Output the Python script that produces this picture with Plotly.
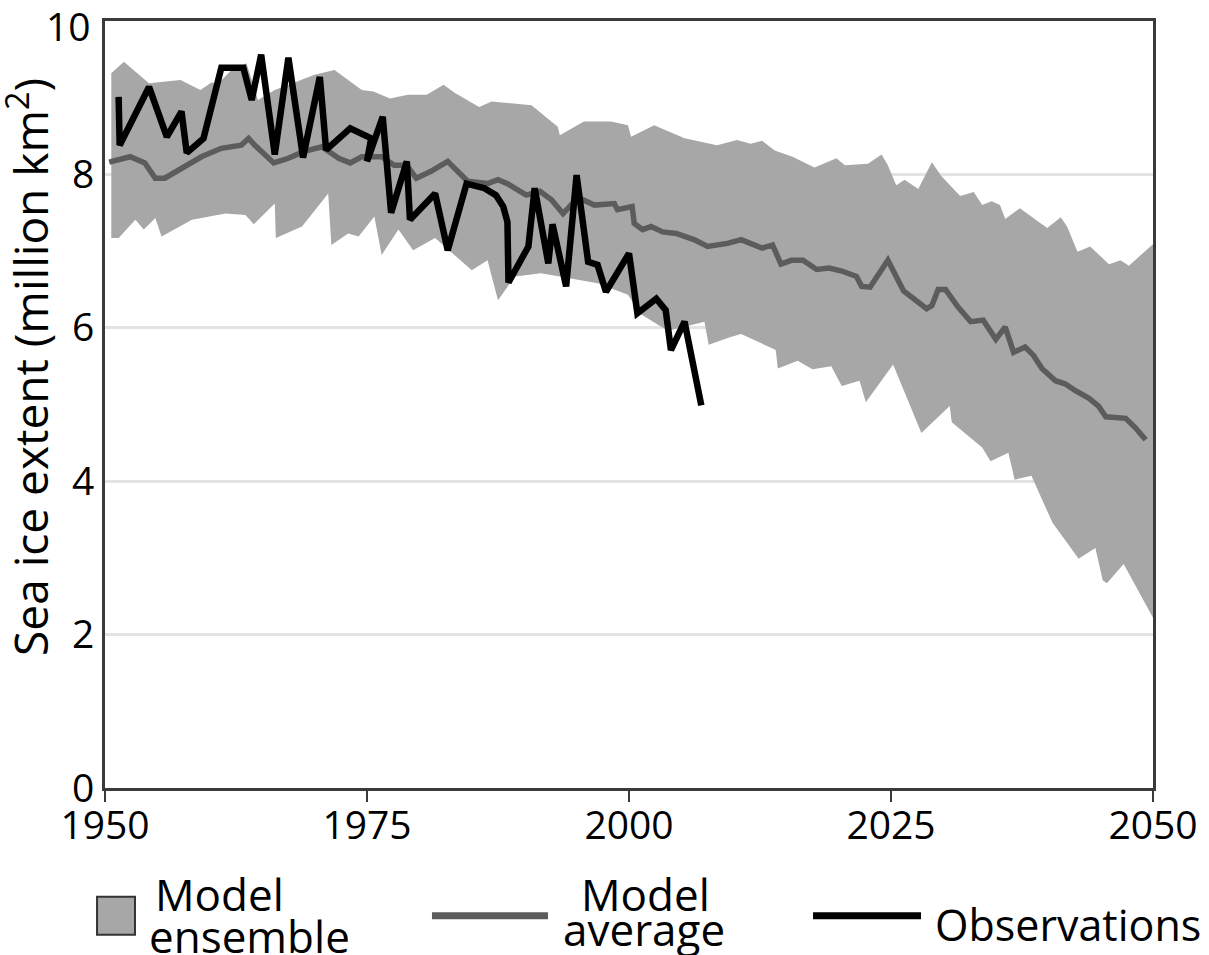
import plotly.graph_objects as go

# Observations (September sea ice extent, million km^2)
obs_years = [1951.3, 1951.4, 1954.2, 1955.9, 1957.3, 1957.8, 1959.4, 1961.1, 1963.2, 1964.0,
             1964.9, 1966.2, 1967.5, 1968.9, 1970.5, 1971.1, 1973.4, 1975.4, 1975.0, 1976.5,
             1977.3, 1978.8, 1979.1, 1981.5, 1982.7, 1984.5, 1986.2, 1987.3, 1988.0, 1988.4,
             1988.5, 1990.4, 1991.0, 1992.3, 1992.7, 1994.0, 1995.0, 1996.1, 1997.0, 1997.8,
             2000.0, 2000.8, 2002.6, 2003.5, 2004.0, 2005.3, 2006.9]
obs_vals = [9.01, 8.38, 9.14, 8.49, 8.82, 8.28, 8.47, 9.39, 9.39, 8.97,
            9.56, 8.26, 9.52, 8.22, 9.27, 8.32, 8.60, 8.47, 8.17, 8.75,
            7.50, 8.17, 7.41, 7.75, 7.01, 7.88, 7.82, 7.73, 7.58, 7.38,
            6.59, 7.06, 7.82, 6.84, 7.35, 6.54, 7.99, 6.86, 6.82, 6.47,
            6.97, 6.19, 6.38, 6.23, 5.71, 6.08, 4.99]

# Model average
avg_years = [1950.4, 1952.4, 1953.8, 1954.8, 1955.7, 1957.3, 1959.2, 1961.1, 1963.0, 1963.7,
             1964.3, 1966.1, 1967.5, 1969.0, 1970.7, 1972.3, 1973.4, 1974.5, 1976.4, 1977.6,
             1978.8, 1979.7, 1981.1, 1982.7, 1983.7, 1984.6, 1986.5, 1987.5, 1988.4, 1990.2,
             1991.5, 1992.6, 1993.7, 1994.6, 1995.6, 1996.7, 1998.6, 1998.9, 2000.3, 2000.5,
             2001.3, 2002.1, 2003.2, 2004.5, 2006.2, 2007.5, 2009.4, 2010.7, 2012.7, 2013.7,
             2014.5, 2015.5, 2016.6, 2017.9, 2019.1, 2020.3, 2021.7, 2022.2, 2023.0, 2024.7,
             2026.2, 2027.3, 2028.4, 2028.9, 2029.5, 2030.2, 2031.4, 2032.6, 2033.8, 2035.0,
             2035.9, 2036.7, 2037.8, 2038.6, 2039.4, 2040.7, 2041.6, 2042.6, 2043.9, 2044.8,
             2045.5, 2047.4, 2048.3, 2049.3]
avg_vals = [8.16, 8.23, 8.15, 7.95, 7.95, 8.08, 8.23, 8.34, 8.38, 8.47,
            8.38, 8.15, 8.21, 8.30, 8.36, 8.21, 8.15, 8.23, 8.23, 8.12,
            8.12, 7.95, 8.04, 8.17, 8.02, 7.91, 7.88, 7.93, 7.88, 7.73,
            7.78, 7.67, 7.49, 7.62, 7.67, 7.60, 7.62, 7.54, 7.58, 7.36,
            7.28, 7.32, 7.25, 7.23, 7.15, 7.06, 7.10, 7.15, 7.04, 7.08,
            6.83, 6.88, 6.88, 6.76, 6.78, 6.74, 6.67, 6.54, 6.53, 6.88,
            6.48, 6.36, 6.25, 6.29, 6.50, 6.50, 6.27, 6.08, 6.10, 5.85,
            6.01, 5.68, 5.75, 5.64, 5.47, 5.31, 5.27, 5.18, 5.08, 4.98,
            4.84, 4.82, 4.70, 4.54]

# Model ensemble envelope
up_years = [1950.6, 1951.8, 1954.2, 1957.2, 1959.1, 1960.2, 1960.7, 1962.0, 1963.5,
            1964.6, 1966.2, 1970.0, 1971.9, 1974.5, 1975.6, 1977.2, 1978.9, 1980.7, 1982.3,
            1983.4, 1985.7, 1986.9, 1990.7, 1993.2, 1993.4, 1995.7, 1998.3, 1999.9, 2000.2,
            2002.4, 2005.3, 2008.4, 2010.3, 2011.6, 2012.7, 2013.9, 2015.6, 2017.7, 2019.8,
            2020.6, 2022.8, 2024.1, 2024.7, 2025.5, 2026.3, 2027.6, 2028.9, 2029.8, 2031.6,
            2032.9, 2033.7, 2034.6, 2035.4, 2035.9, 2037.3, 2039.9, 2041.2, 2041.8, 2042.8,
            2044.0, 2045.8, 2046.9, 2047.7, 2050.0]
up_vals = [9.32, 9.47, 9.19, 9.23, 9.10, 9.20, 9.17, 9.35, 9.45,
           8.97, 9.10, 9.30, 9.36, 9.10, 9.08, 8.99, 9.04, 9.04, 9.17,
           9.06, 8.88, 8.95, 8.90, 8.62, 8.51, 8.69, 8.69, 8.64, 8.49,
           8.64, 8.47, 8.38, 8.45, 8.40, 8.44, 8.31, 8.23, 8.09, 8.21,
           8.12, 8.14, 8.26, 8.12, 7.86, 7.93, 7.81, 8.16, 7.98, 7.72,
           7.77, 7.60, 7.65, 7.60, 7.42, 7.56, 7.30, 7.44, 7.32, 6.99,
           7.06, 6.83, 6.88, 6.81, 7.09]
lo_years = [1950.6, 1951.3, 1952.9, 1953.7, 1954.8, 1955.4, 1958.3, 1961.5, 1963.4, 1964.2,
            1966.2, 1966.3, 1968.8, 1971.3, 1971.6, 1973.2, 1974.2, 1975.7, 1976.4, 1978.0,
            1979.4, 1981.5, 1985.0, 1986.5, 1987.5, 1989.1, 1991.6, 1994.2, 1997.0, 1999.9,
            2001.1, 2003.7, 2007.2, 2007.6, 2009.7, 2010.7, 2014.0, 2014.2, 2016.1, 2017.5,
            2019.3, 2020.3, 2022.0, 2022.6, 2025.2, 2027.9, 2030.6, 2030.8, 2033.7, 2034.5,
            2036.2, 2036.8, 2038.4, 2040.4, 2042.9, 2044.5, 2045.2, 2045.6, 2047.2, 2050.0]
lo_vals = [7.17, 7.17, 7.41, 7.28, 7.43, 7.19, 7.41, 7.49, 7.47, 7.35,
           7.62, 7.17, 7.32, 7.75, 7.08, 7.23, 7.19, 7.45, 6.95, 7.28,
           7.01, 7.17, 6.75, 6.88, 6.36, 6.67, 6.71, 6.65, 6.58, 6.43,
           6.18, 5.96, 6.08, 5.78, 5.88, 5.92, 5.71, 5.47, 5.57, 5.46,
           5.50, 5.24, 5.31, 5.03, 5.52, 4.63, 4.98, 4.77, 4.44, 4.26,
           4.37, 4.02, 4.07, 3.46, 2.99, 3.13, 2.71, 2.67, 2.92, 2.22]

x_ticks = [1950, 1975, 2000, 2025, 2050]
y_ticks = [0, 2, 4, 6, 8, 10]

FONT = "Open Sans, Noto Sans, sans-serif"
BAND = "#a7a7a7"
AVG = "#5c5c5c"
OBS = "#000000"

fig = go.Figure()
fig.add_trace(go.Scatter(
    x=up_years + lo_years[::-1], y=up_vals + lo_vals[::-1],
    fill="toself", fillcolor=BAND, mode="lines", line=dict(width=0, color=BAND),
    hoverinfo="skip", showlegend=False))
fig.add_trace(go.Scatter(x=avg_years, y=avg_vals, mode="lines",
                         line=dict(color=AVG, width=5.5), showlegend=False))
fig.add_trace(go.Scatter(x=obs_years, y=obs_vals, mode="lines",
                         line=dict(color=OBS, width=6.5), showlegend=False))

fig.update_layout(
    width=1209, height=955,
    margin=dict(l=105, r=56, t=21, b=167),
    paper_bgcolor="white", plot_bgcolor="white",
    font=dict(family=FONT, size=39, color="black"),
    showlegend=False,
)
fig.update_xaxes(range=[1950, 2050], tickvals=x_ticks, ticktext=[str(v) for v in x_ticks],
                 showgrid=False, zeroline=False,
                 showline=True, linecolor="#3a3a3a", linewidth=3, mirror=True,
                 ticks="outside", ticklen=11, tickwidth=2, tickcolor="#3a3a3a",
                 ticklabelstandoff=-10, tickfont=dict(size=39))
fig.update_yaxes(range=[0, 10], tickvals=y_ticks[:-1], ticktext=[str(v) for v in y_ticks[:-1]],
                 showgrid=True, gridcolor="#e3e3e3", gridwidth=3, zeroline=False,
                 showline=True, linecolor="#3a3a3a", linewidth=3, mirror=True,
                 ticks="", tickfont=dict(size=39))
# top tick label (at the very edge of the plot area)
fig.add_annotation(text=str(y_ticks[-1]), xref="paper", yref="y", x=-0.0115, y=y_ticks[-1],
                   xanchor="right", yanchor="middle", yshift=-4, showarrow=False,
                   font=dict(size=39))

# y-axis title
fig.add_annotation(text="Sea ice extent (million km<sup>2</sup>)", textangle=-90,
                   xref="paper", yref="paper", x=-0.0735, y=0.549,
                   xanchor="center", yanchor="middle", showarrow=False,
                   font=dict(size=46))

# custom legend
fig.add_shape(type="rect", xref="paper", yref="paper",
              x0=-0.0076, x1=0.0286, y0=-0.1914, y1=-0.1419,
              fillcolor=BAND, line=dict(color="#333333", width=2))
fig.add_shape(type="line", xref="paper", yref="paper",
              x0=0.3120, x1=0.4227, y0=-0.1667, y1=-0.1667,
              line=dict(color=AVG, width=7))
fig.add_shape(type="line", xref="paper", yref="paper",
              x0=0.6756, x1=0.7786, y0=-0.1667, y1=-0.1667,
              line=dict(color=OBS, width=7))
legend_texts = [("Model", 0.1097, -0.1380, "center", 44), ("ensemble", 0.1379, -0.1927, "center", 44),
                ("Model", 0.5153, -0.1380, "center", 44), ("average", 0.5143, -0.1836, "center", 44),
                ("Observations", 0.790, -0.1784, "left", 43)]
for t, x, y, xa, fs in legend_texts:
    fig.add_annotation(text=t, xref="paper", yref="paper", x=x, y=y,
                       xanchor=xa, yanchor="middle", showarrow=False,
                       font=dict(size=fs))

fig.write_html("out.html")
